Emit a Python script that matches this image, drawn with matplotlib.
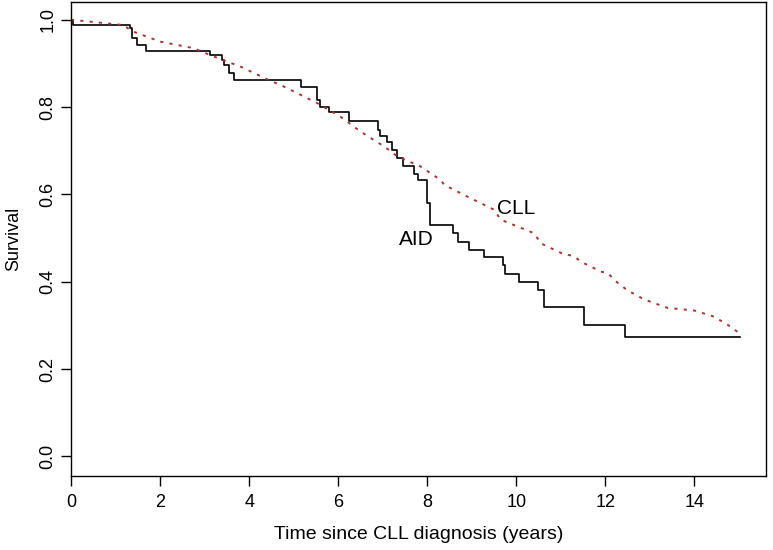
import matplotlib
matplotlib.use("Agg")
import matplotlib.pyplot as plt

plt.rcParams['font.family'] = ['Liberation Sans', 'DejaVu Sans']

# AID Kaplan-Meier step curve (time in years, survival)
aid_time = [0.0, 0.05, 1.33, 1.37, 1.48, 1.69, 3.13, 3.39, 3.43, 3.54, 3.65,
            5.17, 5.53, 5.60, 5.79, 6.24, 6.90, 6.95, 7.10, 7.20, 7.33, 7.46,
            7.70, 7.80, 8.00, 8.07, 8.58, 8.68, 8.94, 9.28, 9.69, 9.74, 10.06,
            10.48, 10.63, 11.53, 12.44, 15.03]
aid_surv = [1.0, 0.988, 0.981, 0.958, 0.943, 0.929, 0.920, 0.908, 0.897, 0.878, 0.863,
            0.847, 0.817, 0.801, 0.788, 0.769, 0.748, 0.733, 0.721, 0.702, 0.683, 0.666,
            0.647, 0.633, 0.581, 0.530, 0.511, 0.492, 0.473, 0.456, 0.439, 0.417, 0.399,
            0.381, 0.342, 0.300, 0.274, 0.274]

# CLL survival curve
cll_time = [0.0, 0.49, 1.17, 1.37, 2.00, 2.75, 3.20, 3.80, 4.48, 4.70, 5.00, 5.53,
            6.05, 6.50, 7.03, 7.33, 7.85, 8.30, 8.38, 8.90, 9.50, 9.65, 10.40, 10.55,
            11.00, 11.30, 11.45, 11.90, 12.05, 12.28, 12.50, 12.88, 13.40, 14.00,
            14.44, 14.75, 15.01]
cll_surv = [1.0, 0.995, 0.988, 0.974, 0.950, 0.935, 0.916, 0.893, 0.860, 0.851, 0.836, 0.809,
            0.778, 0.744, 0.710, 0.687, 0.664, 0.633, 0.622, 0.595, 0.565, 0.542, 0.511, 0.488,
            0.466, 0.458, 0.446, 0.423, 0.420, 0.397, 0.380, 0.359, 0.340, 0.334,
            0.320, 0.301, 0.282]

x_ticks = [0, 2, 4, 6, 8, 10, 12, 14]
y_ticks = [0.0, 0.2, 0.4, 0.6, 0.8, 1.0]
y_tick_labels = ["0.0", "0.2", "0.4", "0.6", "0.8", "1.0"]

fig = plt.figure(figsize=(7.73, 5.5), dpi=100)
ax = fig.add_axes([71 / 773, (550 - 476) / 550, (765.7 - 71) / 773, (476 - 2.3) / 550])

ax.step(aid_time, aid_surv, where='post', color='black', lw=1.2)
ax.plot(cll_time, cll_surv, color='#b03030', lw=1.4, linestyle=(0, (1.6, 3.2)))

ax.text(7.76, 0.496, "AID", fontsize=15, ha='center', va='center')
ax.text(10.0, 0.567, "CLL", fontsize=15, ha='center', va='center')

ax.set_xlim(0, 15.6)
ax.set_ylim(-0.045, 1.04)
ax.set_xticks(x_ticks)
ax.set_yticks(y_ticks)
ax.set_yticklabels(y_tick_labels, rotation=90, va='center')
ax.tick_params(axis='both', direction='out', length=7.2, width=1.0, labelsize=13)
ax.tick_params(axis='x', pad=5.5)
ax.tick_params(axis='y', pad=3.5)
for s in ax.spines.values():
    s.set_linewidth(1.0)

ax.set_xlabel("Time since CLL diagnosis (years)", fontsize=14, labelpad=11)
ax.set_ylabel("Survival", fontsize=13, labelpad=12)

fig.savefig("out.png", dpi=100)
